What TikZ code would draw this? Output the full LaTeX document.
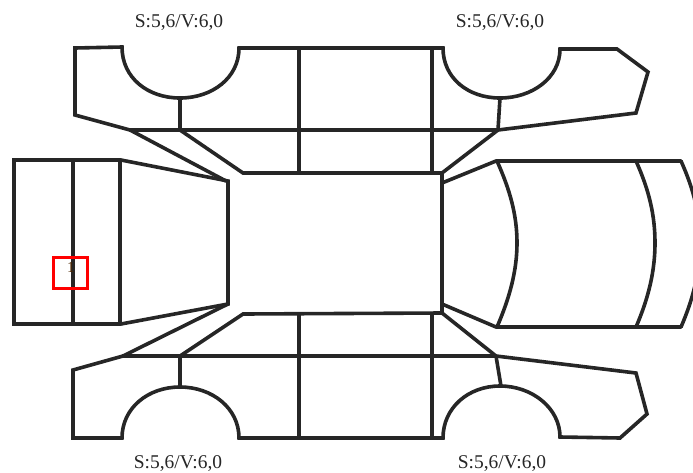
\documentclass[tikz,border=0pt]{standalone}
\usepackage{fontspec}
\setmainfont{Liberation Serif}
\tikzset{
  px/.style={x=0.75pt,y=-0.75pt},
  outline/.style={draw=black!85,line width=2.7pt,line join=miter,line cap=round},
  speclabel/.style={font=\fontsize{14.6}{16}\selectfont,text=black!85,inner sep=0pt,anchor=center},
  marker/.style={draw=red,line width=2.4pt},
  digit/.style={font=\fontsize{11.5}{12}\selectfont,text=black!70!orange,inner sep=0pt}
}
\begin{document}
\begin{tikzpicture}[px]
\useasboundingbox (0,0) rectangle (693,472);
\clip (0,0) rectangle (693,472);
% top side panel
\draw[outline] (75,115) -- (75,48) -- (122,47) .. controls (122,78) and (148,98) .. (180,98)
  .. controls (212,98) and (239,78) .. (239,48) -- (443,48)
  .. controls (443,78) and (468,98) .. (500,98)
  .. controls (532,98) and (560,78) .. (560,49)
  -- (617,49) -- (648,72) -- (636,113) -- (498,130) -- (130,130) -- cycle;
\draw[outline] (130,130) -- (226,181);
\draw[outline] (180,130) -- (243,173) -- (442,173) -- (498,130);
\draw[outline] (180,98) -- (180,130);
\draw[outline] (500,98) -- (498,130);
\draw[outline] (299,48) -- (299,173);
\draw[outline] (432,48) -- (432,173);
% rear block
\draw[outline] (14,160) -- (121,160) -- (228,181) -- (228,304) -- (121,324) -- (14,324) -- cycle;
\draw[outline] (73,160) -- (73,324);
\draw[outline] (120,160) -- (120,324);
% bottom side panel
\draw[outline] (123,356) -- (73,370) -- (73,438) -- (122,438)
  .. controls (122,408) and (148,387) .. (180,387)
  .. controls (212,387) and (239,408) .. (239,438) -- (443,438)
  .. controls (443,408) and (468,386) .. (500,386)
  .. controls (532,386) and (560,408) .. (560,437)
  -- (620,438) -- (647,414) -- (636,373) -- (496,356) -- cycle;
\draw[outline] (228,304) -- (123,356);
\draw[outline] (180,356) -- (243,314) -- (442,313) -- (496,356);
\draw[outline] (180,356) -- (180,387);
\draw[outline] (496,356) -- (501,386);
\draw[outline] (299,314) -- (299,438);
\draw[outline] (432,314) -- (432,438);
% front block
\draw[outline] (442,173) -- (442,313);
\draw[outline] (442,183) -- (496,161) -- (681,161);
\draw[outline] (442,304) -- (496,327) -- (681,327);
\draw[outline] (497,161) .. controls (510,190) and (517,215) .. (517,243) .. controls (517,270) and (510,297) .. (497,327);
\draw[outline] (636,161) .. controls (649,190) and (655,215) .. (655,243) .. controls (655,270) and (649,297) .. (636,327);
\draw[outline] (681,161) .. controls (694,190) and (700,215) .. (700,243) .. controls (700,270) and (694,297) .. (681,327);
% labels
\node[speclabel] (tl) at (179,23) {S:5,6/V:6,0};
\node[speclabel] (tr) at (500,23) {S:5,6/V:6,0};
\node[speclabel] (bl) at (178,463.4) {S:5,6/V:6,0};
\node[speclabel] (br) at (502,463.4) {S:5,6/V:6,0};
% marker
\draw[marker] (53.5,257.5) rectangle (87.5,288.5);
\node[digit] (num) at (71,267) {1};
\end{tikzpicture}
\end{document}
